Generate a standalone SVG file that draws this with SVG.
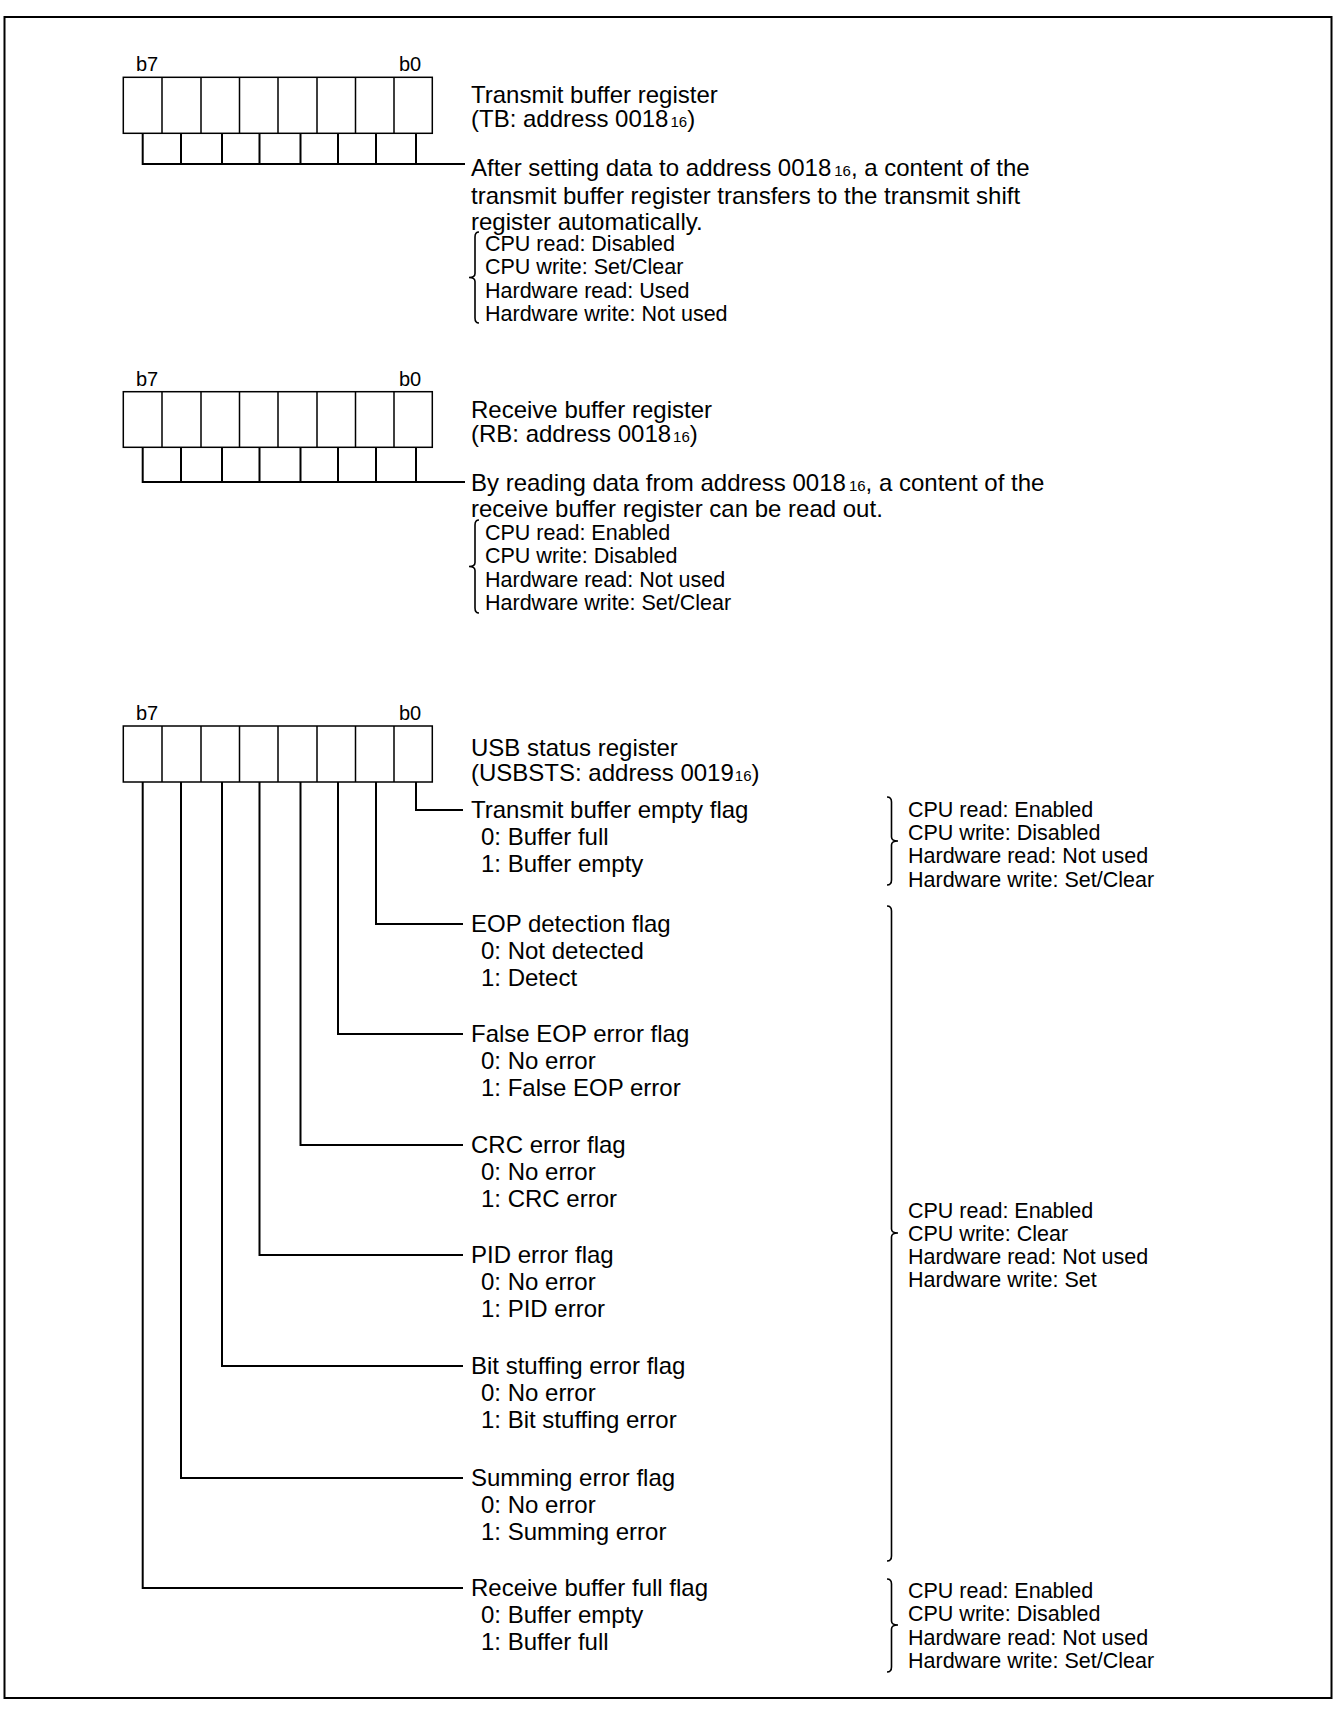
<svg xmlns="http://www.w3.org/2000/svg" width="1335" height="1711" viewBox="0 0 1335 1711">
<style>
text{font-family:"Liberation Sans",Arial,sans-serif;fill:#000}
.big{font-size:24px}
.sm{font-size:21.5px}
.bit{font-size:20px}
.sub{font-size:15px}
.box{fill:#fff;stroke:#000;stroke-width:1.5}
.div{stroke:#000;stroke-width:1.5}
.wire{fill:none;stroke:#000;stroke-width:2}
.brace{fill:none;stroke:#000;stroke-width:1.6}
</style>
<rect x="4.5" y="17" width="1327" height="1681" fill="#fff" stroke="#000" stroke-width="2"/>

<g id="connectors">
  <path class="wire" d="M142.7 133.3V164H465M181 133.3V164M222 133.3V164M259.5 133.3V164M300.5 133.3V164M338 133.3V164M376 133.3V164M416 133.3V164"/>
  <path class="wire" d="M142.7 447.3V482H465M181 447.3V482M222 447.3V482M259.5 447.3V482M300.5 447.3V482M338 447.3V482M376 447.3V482M416 447.3V482"/>
  <path class="wire" d="M416 782V810H463"/>
  <path class="wire" d="M376 782V924H463"/>
  <path class="wire" d="M338 782V1034H463"/>
  <path class="wire" d="M300.5 782V1145H463"/>
  <path class="wire" d="M259.5 782V1255H463"/>
  <path class="wire" d="M222 782V1366H463"/>
  <path class="wire" d="M181 782V1478H463"/>
  <path class="wire" d="M142.7 782V1588H463"/>
</g>

<g id="reg-tb">
  <text class="bit" x="136" y="71">b7</text>
  <text class="bit" x="399" y="71">b0</text>
  <rect class="box" x="123.3" y="77.3" width="309" height="56"/>
  <path class="div" d="M162 77.3V133.3M201 77.3V133.3M239.5 77.3V133.3M278 77.3V133.3M317 77.3V133.3M355.5 77.3V133.3M394 77.3V133.3"/>
  <text class="big" x="471" y="103">Transmit buffer register</text>
  <text class="big" x="471" y="127">(TB: address 0018<tspan class="sub" dx="2">16</tspan>)</text>
</g>
<g id="tb-desc">
  <text class="big" x="471" y="176">After setting data to address 0018<tspan class="sub" dx="3">16</tspan>, a content of the</text>
  <text class="big" x="471" y="203.5">transmit buffer register transfers to the transmit shift</text>
  <text class="big" x="471" y="230">register automatically.</text>
  <path class="brace" d="M479 232Q475 232 475 237V273.5Q475 277.5 469 277.5Q475 277.5 475 281.5V318Q475 323 479 323"/>
  <text class="sm" x="485" y="251">CPU read: Disabled</text>
  <text class="sm" x="485" y="274.3">CPU write: Set/Clear</text>
  <text class="sm" x="485" y="297.6">Hardware read: Used</text>
  <text class="sm" x="485" y="321">Hardware write: Not used</text>
</g>

<g id="reg-rb">
  <text class="bit" x="136" y="386">b7</text>
  <text class="bit" x="399" y="386">b0</text>
  <rect class="box" x="123.3" y="391.7" width="309" height="55.6"/>
  <path class="div" d="M162 391.7V447.3M201 391.7V447.3M239.5 391.7V447.3M278 391.7V447.3M317 391.7V447.3M355.5 391.7V447.3M394 391.7V447.3"/>
  <text class="big" x="471" y="418">Receive buffer register</text>
  <text class="big" x="471" y="442">(RB: address 0018<tspan class="sub" dx="2">16</tspan>)</text>
</g>
<g id="rb-desc">
  <text class="big" x="471" y="491">By reading data from address 0018<tspan class="sub" dx="3">16</tspan>, a content of the</text>
  <text class="big" x="471" y="517">receive buffer register can be read out.</text>
  <path class="brace" d="M479 520Q475 520 475 525V562.5Q475 566.5 469 566.5Q475 566.5 475 570.5V608Q475 613 479 613"/>
  <text class="sm" x="485" y="540">CPU read: Enabled</text>
  <text class="sm" x="485" y="563.3">CPU write: Disabled</text>
  <text class="sm" x="485" y="586.6">Hardware read: Not used</text>
  <text class="sm" x="485" y="610">Hardware write: Set/Clear</text>
</g>

<g id="reg-usbsts">
  <text class="bit" x="136" y="720">b7</text>
  <text class="bit" x="399" y="720">b0</text>
  <rect class="box" x="123.3" y="726" width="309" height="56"/>
  <path class="div" d="M162 726V782M201 726V782M239.5 726V782M278 726V782M317 726V782M355.5 726V782M394 726V782"/>
  <text class="big" x="471" y="756">USB status register</text>
  <text class="big" x="471" y="781">(USBSTS: address 0019<tspan class="sub" dx="1">16</tspan>)</text>
</g>

<g id="flag-b0">
  <text class="big" x="471" y="818">Transmit buffer empty flag</text>
  <text class="big" x="481" y="845">0: Buffer full</text>
  <text class="big" x="481" y="872">1: Buffer empty</text>
</g>
<g id="flag-b1">
  <text class="big" x="471" y="932">EOP detection flag</text>
  <text class="big" x="481" y="959">0: Not detected</text>
  <text class="big" x="481" y="986">1: Detect</text>
</g>
<g id="flag-b2">
  <text class="big" x="471" y="1042">False EOP error flag</text>
  <text class="big" x="481" y="1069">0: No error</text>
  <text class="big" x="481" y="1096">1: False EOP error</text>
</g>
<g id="flag-b3">
  <text class="big" x="471" y="1153">CRC error flag</text>
  <text class="big" x="481" y="1180">0: No error</text>
  <text class="big" x="481" y="1207">1: CRC error</text>
</g>
<g id="flag-b4">
  <text class="big" x="471" y="1263">PID error flag</text>
  <text class="big" x="481" y="1290">0: No error</text>
  <text class="big" x="481" y="1317">1: PID error</text>
</g>
<g id="flag-b5">
  <text class="big" x="471" y="1374">Bit stuffing error flag</text>
  <text class="big" x="481" y="1401">0: No error</text>
  <text class="big" x="481" y="1428">1: Bit stuffing error</text>
</g>
<g id="flag-b6">
  <text class="big" x="471" y="1486">Summing error flag</text>
  <text class="big" x="481" y="1513">0: No error</text>
  <text class="big" x="481" y="1540">1: Summing error</text>
</g>
<g id="flag-b7">
  <text class="big" x="471" y="1596">Receive buffer full flag</text>
  <text class="big" x="481" y="1623">0: Buffer empty</text>
  <text class="big" x="481" y="1650">1: Buffer full</text>
</g>

<g id="access-b0">
  <path class="brace" d="M887 797Q891.5 797 891.5 802V837Q891.5 841 898 841Q891.5 841 891.5 845V880Q891.5 885 887 885"/>
  <text class="sm" x="908" y="816.7">CPU read: Enabled</text>
  <text class="sm" x="908" y="840">CPU write: Disabled</text>
  <text class="sm" x="908" y="863.3">Hardware read: Not used</text>
  <text class="sm" x="908" y="886.6">Hardware write: Set/Clear</text>
</g>
<g id="access-b1-b6">
  <path class="brace" d="M887 906Q891.5 906 891.5 911V1229Q891.5 1233 898 1233Q891.5 1233 891.5 1237V1556Q891.5 1561 887 1561"/>
  <text class="sm" x="908" y="1217.5">CPU read: Enabled</text>
  <text class="sm" x="908" y="1240.8">CPU write: Clear</text>
  <text class="sm" x="908" y="1264.1">Hardware read: Not used</text>
  <text class="sm" x="908" y="1287.4">Hardware write: Set</text>
</g>
<g id="access-b7">
  <path class="brace" d="M887 1579Q891.5 1579 891.5 1584V1621Q891.5 1625 898 1625Q891.5 1625 891.5 1629V1667Q891.5 1672 887 1672"/>
  <text class="sm" x="908" y="1598">CPU read: Enabled</text>
  <text class="sm" x="908" y="1621.3">CPU write: Disabled</text>
  <text class="sm" x="908" y="1644.6">Hardware read: Not used</text>
  <text class="sm" x="908" y="1668">Hardware write: Set/Clear</text>
</g>
</svg>
